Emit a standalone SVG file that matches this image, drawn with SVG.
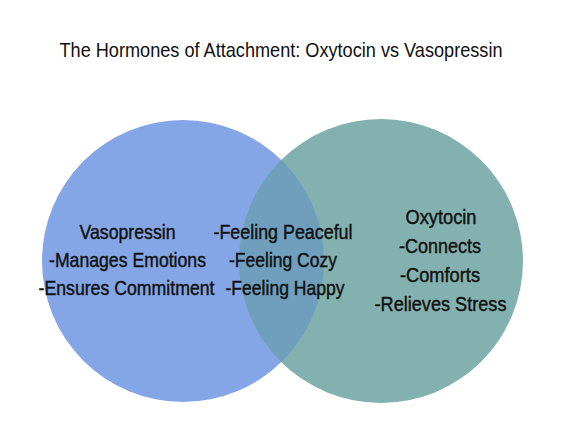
<svg xmlns="http://www.w3.org/2000/svg" width="564" height="443" viewBox="0 0 564 443">
<style>
.t{font-family:"Liberation Sans",Arial,sans-serif;fill:#111;text-anchor:middle}
.title{font-size:21px}
.b{font-size:21px;stroke:#111;stroke-width:0.45}
</style>
<defs>
<clipPath id="clipL"><circle cx="183" cy="261" r="141"/></clipPath>
</defs>
<rect width="564" height="443" fill="#fff"/>
<text class="t title" x="281" y="57" textLength="443" lengthAdjust="spacingAndGlyphs">The Hormones of Attachment: Oxytocin vs Vasopressin</text>
<g id="vasopressin">
<circle cx="183" cy="261" r="141" fill="#85a6e6"/>
</g>
<g id="oxytocin">
<circle cx="381" cy="261" r="142" fill="#83b1af"/>
</g>
<g id="overlap">
<circle cx="381" cy="261" r="142" fill="#6f9fbd" clip-path="url(#clipL)"/>
</g>
<g id="connectors"></g>
<g id="labels-vasopressin">
<text class="t b" x="127.5" y="239" textLength="96" lengthAdjust="spacingAndGlyphs">Vasopressin</text>
<text class="t b" x="127.5" y="267" textLength="157" lengthAdjust="spacingAndGlyphs">-Manages Emotions</text>
<text class="t b" x="126.5" y="295" textLength="176" lengthAdjust="spacingAndGlyphs">-Ensures Commitment</text>
</g>
<g id="labels-both">
<text class="t b" x="283" y="239" textLength="139" lengthAdjust="spacingAndGlyphs">-Feeling Peaceful</text>
<text class="t b" x="283" y="267" textLength="108" lengthAdjust="spacingAndGlyphs">-Feeling Cozy</text>
<text class="t b" x="285" y="295" textLength="119" lengthAdjust="spacingAndGlyphs">-Feeling Happy</text>
</g>
<g id="labels-oxytocin">
<text class="t b" x="441" y="224" textLength="71" lengthAdjust="spacingAndGlyphs">Oxytocin</text>
<text class="t b" x="440" y="253" textLength="82" lengthAdjust="spacingAndGlyphs">-Connects</text>
<text class="t b" x="440" y="282" textLength="80" lengthAdjust="spacingAndGlyphs">-Comforts</text>
<text class="t b" x="440.5" y="311" textLength="132" lengthAdjust="spacingAndGlyphs">-Relieves Stress</text>
</g>
</svg>
